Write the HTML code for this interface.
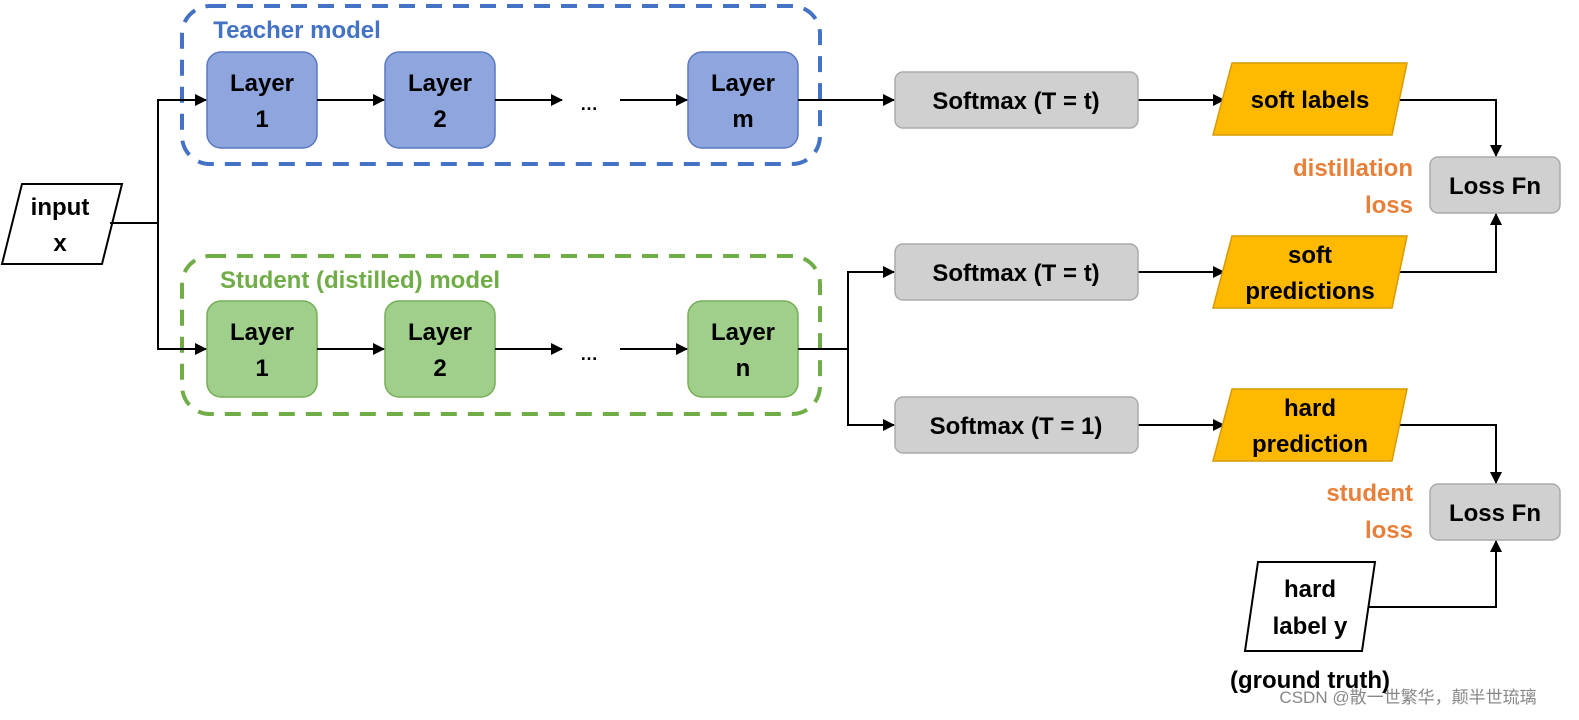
<!DOCTYPE html>
<html><head><meta charset="utf-8"><style>
html,body{margin:0;padding:0;background:#fff;width:1579px;height:720px;overflow:hidden}
svg text{font-family:"Liberation Sans","Noto Sans CJK SC",sans-serif;font-weight:bold;font-size:24px;fill:#000;text-anchor:middle}
</style></head><body>
<svg width="1579" height="720" viewBox="0 0 1579 720" xmlns="http://www.w3.org/2000/svg">
<defs><marker id="a" markerWidth="12" markerHeight="12" refX="11" refY="6" orient="auto" markerUnits="userSpaceOnUse"><path d="M0,0 L12,6 L0,12 z" fill="#000"/></marker></defs>
<rect x="182" y="6" width="638" height="158" rx="28" fill="none" stroke="#4472c4" stroke-width="4" stroke-dasharray="16,11"/>
<rect x="182" y="256" width="638" height="158" rx="28" fill="none" stroke="#70ad47" stroke-width="4" stroke-dasharray="16,11"/>
<text x="297" y="38" style="fill:#4472c4;font-size:24px">Teacher model</text>
<text x="360" y="288" style="fill:#70ad47;font-size:24px">Student (distilled) model</text>
<g fill="#8fa5de" stroke="#5a78c2" stroke-width="1.5">
<rect x="207" y="52" width="110" height="96" rx="14"/><rect x="385" y="52" width="110" height="96" rx="14"/><rect x="688" y="52" width="110" height="96" rx="14"/></g>
<g fill="#9fcf8a" stroke="#74ae55" stroke-width="1.5">
<rect x="207" y="301" width="110" height="96" rx="14"/><rect x="385" y="301" width="110" height="96" rx="14"/><rect x="688" y="301" width="110" height="96" rx="14"/></g>
<text x="262" y="91">Layer</text><text x="262" y="127">1</text>
<text x="440" y="91">Layer</text><text x="440" y="127">2</text>
<text x="743" y="91">Layer</text><text x="743" y="127">m</text>
<text x="262" y="340">Layer</text><text x="262" y="376">1</text>
<text x="440" y="340">Layer</text><text x="440" y="376">2</text>
<text x="743" y="340">Layer</text><text x="743" y="376">n</text>
<text x="589" y="110" style="font-size:18px">…</text><text x="589" y="360" style="font-size:18px">…</text>
<polygon points="22,184 122,184 102,264 2,264" fill="#fff" stroke="#000" stroke-width="2"/>
<text x="60" y="215">input</text><text x="60" y="251">x</text>
<g stroke="#000" stroke-width="2" fill="none">
<path d="M110,223 H158 V100 H206" marker-end="url(#a)"/>
<path d="M158,223 V349 H206" marker-end="url(#a)"/>
<path d="M317,100 H384" marker-end="url(#a)"/><path d="M495,100 H562" marker-end="url(#a)"/><path d="M620,100 H687" marker-end="url(#a)"/>
<path d="M317,349 H384" marker-end="url(#a)"/><path d="M495,349 H562" marker-end="url(#a)"/><path d="M620,349 H687" marker-end="url(#a)"/>
<path d="M798,100 H894" marker-end="url(#a)"/>
<path d="M798,349 H848 V272 H894" marker-end="url(#a)"/>
<path d="M848,349 V425 H894" marker-end="url(#a)"/>
<path d="M1138,100 H1224" marker-end="url(#a)"/>
<path d="M1138,272 H1224" marker-end="url(#a)"/>
<path d="M1138,425 H1224" marker-end="url(#a)"/>
<path d="M1400,100 H1496 V156" marker-end="url(#a)"/>
<path d="M1400,272 H1496 V214" marker-end="url(#a)"/>
<path d="M1400,425 H1496 V483" marker-end="url(#a)"/>
<path d="M1365,607 H1496 V541" marker-end="url(#a)"/>
</g>
<g fill="#d0d0d0" stroke="#aaa" stroke-width="1.5">
<rect x="895" y="72" width="243" height="56" rx="8"/><rect x="895" y="244" width="243" height="56" rx="8"/><rect x="895" y="397" width="243" height="56" rx="8"/>
<rect x="1430" y="157" width="130" height="56" rx="8"/><rect x="1430" y="484" width="130" height="56" rx="8"/></g>
<text x="1016" y="109">Softmax (T = t)</text><text x="1016" y="281">Softmax (T = t)</text><text x="1016" y="434">Softmax (T = 1)</text>
<text x="1495" y="194">Loss Fn</text><text x="1495" y="521">Loss Fn</text>
<g fill="#ffb900" stroke="#d89a00" stroke-width="1.5">
<polygon points="1232,63 1407,63 1392,135 1213,135"/><polygon points="1232,236 1407,236 1392,308 1213,308"/><polygon points="1232,389 1407,389 1392,461 1213,461"/></g>
<text x="1310" y="108">soft labels</text>
<text x="1310" y="263">soft</text><text x="1310" y="299">predictions</text>
<text x="1310" y="416">hard</text><text x="1310" y="452">prediction</text>
<text x="1413" y="176" style="fill:#e8803a;text-anchor:end">distillation</text><text x="1413" y="213" style="fill:#e8803a;text-anchor:end">loss</text>
<text x="1413" y="501" style="fill:#e8803a;text-anchor:end">student</text><text x="1413" y="538" style="fill:#e8803a;text-anchor:end">loss</text>
<polygon points="1258,562 1375,562 1362,651 1245,651" fill="#fff" stroke="#000" stroke-width="2"/>
<text x="1310" y="597">hard</text><text x="1310" y="634">label y</text>
<text x="1310" y="688">(ground truth)</text>
<text x="1408" y="703" style="font-weight:normal;font-size:17px;fill:#888">CSDN @散一世繁华，颠半世琉璃</text>
</svg>
</body></html>
